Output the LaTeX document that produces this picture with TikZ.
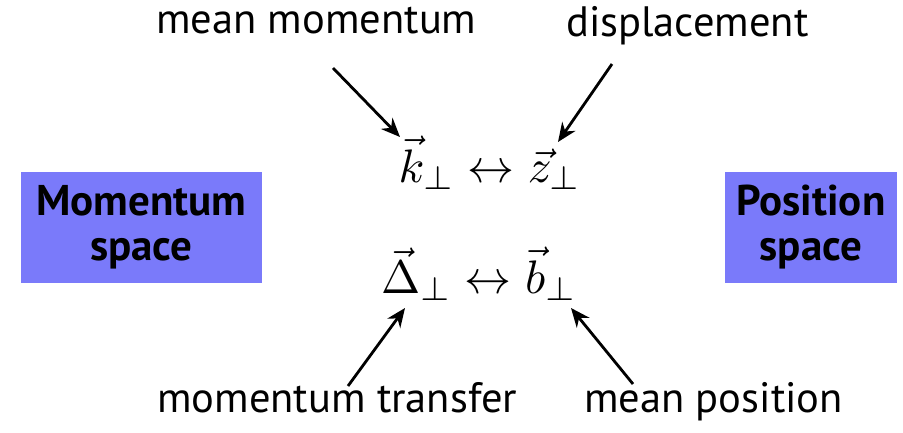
\documentclass[tikz,border=0pt]{standalone}
\usepackage{fontspec}
\setmainfont{PT Sans}
\usetikzlibrary{arrows.meta}
\definecolor{boxblue}{RGB}{122,122,250}
\begin{document}
\begin{tikzpicture}[x=1pt,y=-1pt,
  lbl/.style={font=\fontsize{42.5}{50}\selectfont, anchor=base west, inner sep=0pt},
  spacebox/.style={fill=boxblue, inner sep=0pt, align=center,
    font=\fontsize{43}{45}\selectfont\bfseries},
  mathrow/.style={anchor=base, inner sep=0pt},
  ptr/.style={line width=2.8pt, -{Stealth[length=19pt,width=16pt]}}]
\useasboundingbox (0,0) rectangle (903,432);
% boxes
\node[spacebox, minimum width=241pt, minimum height=111pt] (mom) at (141.5,227.5) {Momentum\\space};
\node[spacebox, minimum width=172pt, minimum height=111pt] (pos) at (811,227.5) {Position\\space};
% math rows
\node[mathrow] (r1) at (490,182) {\scalebox{4.7}{$\vec{k}_\perp \leftrightarrow \vec{z}_\perp$}};
\node[mathrow] (r2) at (479,293) {\scalebox{4.7}{$\vec{\Delta}_\perp \leftrightarrow \vec{b}_\perp$}};
% labels
\node[lbl] (mm) at (156,33) {mean momentum};
\node[lbl] (disp) at (566,36) {displacement};
\node[lbl] (mt) at (157,412) {momentum transfer};
\node[lbl] (mp) at (584,412) {mean position};
% arrow ends
\coordinate (mmTail) at (333,68);
\coordinate (mmTip) at (400,137);
\coordinate (dTail) at (612,64);
\coordinate (dTip) at (558,142);
\coordinate (mtTail) at (348,386);
\coordinate (mtTip) at (405,308);
\coordinate (mpTail) at (633,384);
\coordinate (mpTip) at (571,308);
\draw[ptr] (mmTail) -- (mmTip);
\draw[ptr] (dTail) -- (dTip);
\draw[ptr] (mtTail) -- (mtTip);
\draw[ptr] (mpTail) -- (mpTip);
\end{tikzpicture}
\end{document}
